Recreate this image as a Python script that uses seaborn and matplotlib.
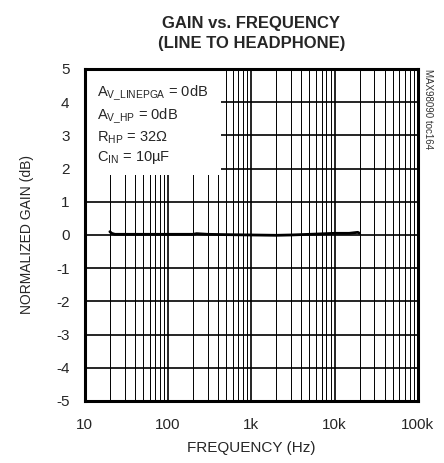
import numpy as np
import pandas as pd
import matplotlib
matplotlib.use("Agg")
import matplotlib.pyplot as plt
from matplotlib.patches import Rectangle
from matplotlib.ticker import LogLocator, FixedLocator, NullFormatter
import seaborn as sns

# data
freq = [20, 21, 23, 30, 50, 100, 200, 220, 300, 500, 1000, 2000, 3000, 5000, 8000, 10000, 15000, 19000, 20000]
gain = [0.1, 0.05, 0.02, 0.02, 0.02, 0.02, 0.02, 0.04, 0.02, 0.01, 0.0, -0.01, 0.0, 0.02, 0.04, 0.05, 0.05, 0.08, 0.05]
xticks = [10, 100, 1000, 10000, 100000]
xlabels = ["10", "100", "1k", "10k", "100k"]
yticks = list(range(-5, 6))

df = pd.DataFrame({"freq": freq, "gain": gain})

sns.set_style("white")
plt.rcParams['font.family'] = ['Liberation Sans', 'DejaVu Sans']

fig = plt.figure(figsize=(4.44, 4.63), dpi=100)
ax = fig.add_axes([0.191, 0.134, 0.750, 0.717])

sns.lineplot(data=df, x="freq", y="gain", ax=ax, color="black", linewidth=2)

ax.set_xscale("log")
ax.set_xlim(10, 100000)
ax.set_ylim(-5, 5)

#grid lines
ax.xaxis.set_major_locator(FixedLocator(xticks))
ax.xaxis.set_minor_locator(LogLocator(base=10, subs=np.arange(2, 10)))
ax.xaxis.set_minor_formatter(NullFormatter())
ax.set_xticks(xticks)
ax.set_xticklabels(xlabels)
ax.set_yticks(yticks)
ax.set_yticklabels([str(v) for v in yticks])
ax.grid(True, which="major", color="black", linewidth=1.2)
ax.grid(True, which="minor", axis="x", color="black", linewidth=0.7)
ax.tick_params(axis="both", which="both", length=0, labelsize=11)
ax.tick_params(axis="x", pad=12)
ax.tick_params(axis="y", pad=11)

for s in ax.spines.values():
    s.set_visible(True)
    s.set_color("black")
    s.set_linewidth(2.2)

ax.set_xlabel("FREQUENCY (Hz)", fontsize=11, labelpad=7)
ax.set_ylabel("NORMALIZED GAIN (dB)", fontsize=10, labelpad=16)
ax.set_title("GAIN vs. FREQUENCY\n(LINE TO HEADPHONE)", fontsize=12, fontweight="bold", pad=15, linespacing=1.4)

#white box with conditions (under the spines and the curve)
ax.add_patch(Rectangle((0, 0.68), 0.41, 0.32, transform=ax.transAxes, facecolor="white", edgecolor="none", zorder=1))
ax.text(0.036, 0.955,
        "A$_{\\mathregular{V\\_LINEPGA}}$ = 0dB\nA$_{\\mathregular{V\\_HP}}$ = 0dB\nR$_{\\mathregular{HP}}$ = 32Ω\nC$_{\\mathregular{IN}}$ = 10µF",
        transform=ax.transAxes, ha="left", va="top", fontsize=10.5, linespacing=1.25, zorder=5)

fig.text(0.963, 0.85, "MAX98090 toc164", rotation=270, ha="center", va="top", fontsize=7, color="#333333")

fig.savefig("out.png", dpi=100)
